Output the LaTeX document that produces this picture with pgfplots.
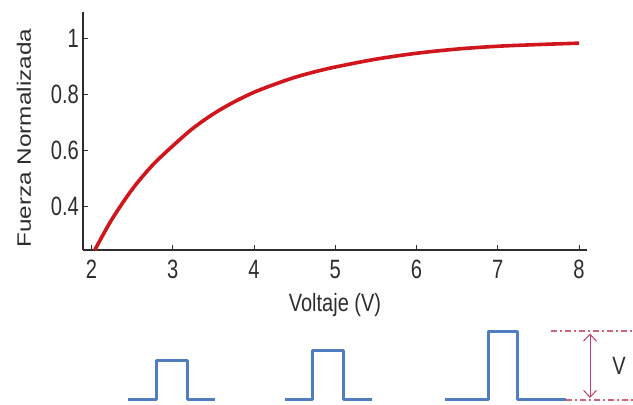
\documentclass[border=0pt]{standalone}
\usepackage{fontspec}
\setmainfont{Liberation Sans}[FakeStretch=0.8]
\newfontfamily\plainsans{Liberation Sans}
\newfontfamily\tickfont{Liberation Sans}[FakeStretch=0.76]
\usepackage{graphicx}
\usepackage{pgfplots}
\pgfplotsset{compat=1.18}
\usetikzlibrary{arrows.meta}
\definecolor{curvered}{RGB}{208,22,28}
\definecolor{pulseblue}{RGB}{80,124,192}
\definecolor{dimred}{RGB}{205,100,120}
\definecolor{arrowred}{RGB}{195,60,95}
\definecolor{axgray}{RGB}{45,45,45}
\newcommand{\labfont}{\fontsize{25}{27}\selectfont}
\newcommand{\tkfont}{\tickfont\fontsize{26.5}{28}\selectfont}

\begin{document}
\begin{tikzpicture}
\useasboundingbox (0,0) rectangle (633pt,405pt);
% overlay axis in pixel units (y down) for the pulse sketch
\begin{axis}[at={(0,0)}, anchor=south west, scale only axis,
  width=633pt, height=405pt, xmin=0, xmax=633, ymin=0, ymax=405,
  y dir=reverse, hide axis, clip=false]
\addplot[pulseblue, line width=3pt, line join=round] coordinates
  {(128,399.3)(156,399.3)(156,360.7)(187.3,360.7)(187.3,399.3)(215,399.3)};
\addplot[pulseblue, line width=3pt, line join=round] coordinates
  {(285,399.3)(312.7,399.3)(312.7,350.7)(343.3,350.7)(343.3,399.3)(371.7,399.3)};
\addplot[pulseblue, line width=3pt, line join=round] coordinates
  {(445,399.3)(488.3,399.3)(488.3,331.7)(517.6,331.7)(517.6,399.3)(566,399.3)};
\addplot[dimred, line width=1.3pt, dash pattern=on 6pt off 3pt on 2pt off 3pt] coordinates
  {(551,331)(633,331)};
\addplot[dimred, line width=1.3pt, dash pattern=on 6pt off 3pt on 2pt off 3pt] coordinates
  {(566,400)(633,400)};
\addplot[arrowred, line width=1pt, {Straight Barb[length=7pt,width=13pt]}-{Straight Barb[length=7pt,width=13pt]}] coordinates
  {(590,333.5)(590,398)};
\node[text=axgray, inner sep=0pt] at (axis cs:619,366) {\labfont V};
\end{axis}
% main chart
\begin{axis}[at={(83pt,155pt)}, anchor=south west, scale only axis,
  width=504pt, height=238pt,
  xmin=1.895, xmax=8.098, ymin=0.246, ymax=1.094,
  axis x line*=bottom, axis y line*=left,
  axis line style={axgray, line width=1.3pt},
  xtick={2,3,4,5,6,7,8}, ytick={0.4,0.6,0.8,1},
  tick align=inside, major tick length=5pt,
  tick style={axgray, line width=1pt},
  /pgf/number format/assume math mode=true,
  tick label style={font=\tkfont, text=axgray, inner sep=4pt},
  xticklabel style={yshift=-6pt},
  xlabel={Voltaje (V)},
  every axis x label/.style={at={(axis description cs:0.5,0)}, anchor=north,
    yshift=-43pt, inner sep=0pt, font=\labfont, text=axgray},
  ylabel={\scalebox{1}[0.8]{\plainsans Fuerza Normalizada}},
  every axis y label/.style={at={(axis description cs:-0.117,0.47)}, rotate=90,
    anchor=center, inner sep=0pt, font=\fontsize{24.3}{26}\selectfont, text=axgray},
  clip=false]
\addplot[curvered, line width=3.6pt, smooth, line cap=butt] coordinates {
(2.04,0.246)(2.25,0.355)(2.5,0.462)(2.75,0.548)(3.0,0.617)(3.25,0.680)
(3.5,0.731)(3.75,0.773)(4.0,0.808)(4.25,0.836)(4.5,0.861)(4.75,0.881)
(5.0,0.898)(5.5,0.926)(6.0,0.947)(6.5,0.962)(7.0,0.972)(7.5,0.978)(8.0,0.983)};
\end{axis}
\end{tikzpicture}
\end{document}
